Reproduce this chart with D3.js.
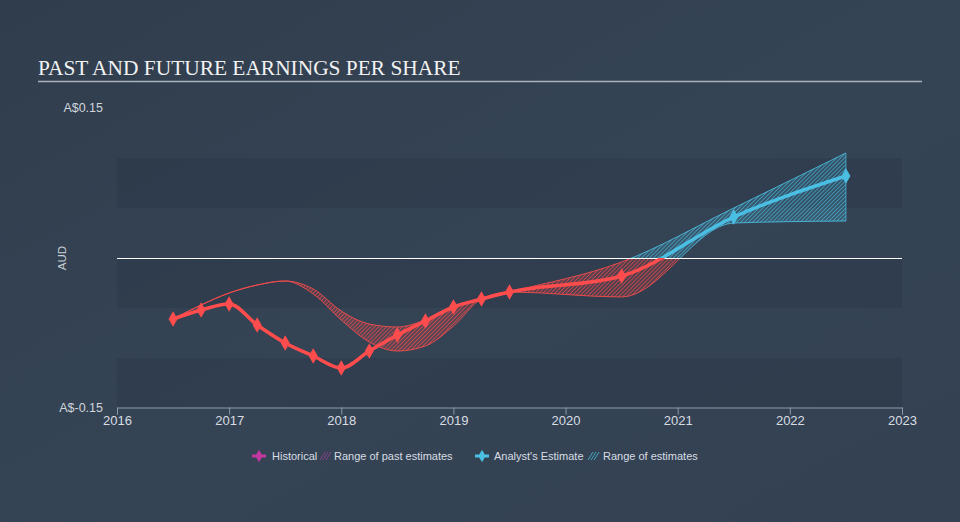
<!DOCTYPE html>
<html lang="en">
<head>
<meta charset="utf-8">
<title>Past and future earnings per share</title>
<script src="https://cdn.jsdelivr.net/npm/d3@7"></script>
<style>
  body { margin: 0; background: #344253; }
  svg { display: block; }
</style>
</head>
<body>
<script>
// EPS line: historical (quarterly) then analyst estimates
var epsDates  = [2016.5, 2016.75, 2017, 2017.25, 2017.5, 2017.75, 2018, 2018.25, 2018.5, 2018.75, 2019, 2019.25, 2019.5, 2020.5, 2021.5, 2022.5];
var epsValues = [-0.061, -0.052, -0.046, -0.067, -0.085, -0.098, -0.110, -0.093, -0.077, -0.063, -0.049, -0.041, -0.034, -0.018, 0.041, 0.082];

// range of estimates (low / high)
var rangeDates = [2016.5, 2016.75, 2017, 2017.25, 2017.5, 2017.75, 2018, 2018.25, 2018.5, 2018.75, 2019, 2019.25, 2019.5, 2020.5, 2021.5, 2022.5];
var rangeLow   = [-0.061, -0.047, -0.035, -0.027, -0.023, -0.036, -0.062, -0.084, -0.093, -0.088, -0.068, -0.041, -0.034, -0.039, 0.035, 0.037];
var rangeHigh  = [-0.061, -0.047, -0.035, -0.027, -0.023, -0.031, -0.053, -0.066, -0.069, -0.062, -0.050, -0.041, -0.034, -0.004, 0.050, 0.105];

var xTicks = [2016, 2017, 2018, 2019, 2020, 2021, 2022, 2023];
var yLabels = [0.15, -0.15];
var bands = [[0.10, 0.05], [0, -0.05], [-0.10, -0.15]];

var w = 960, h = 522;
var red = "#ff4c4c", blue = "#4bbfe3";

var x = d3.scaleLinear().domain([2016, 2023]).range([117, 902]);
var y = d3.scaleLinear().domain([-0.15, 0.15]).range([408, 108]);

var svg = d3.select("body").append("svg").attr("width", w).attr("height", h);

var defs = svg.append("defs");
var bg = defs.append("linearGradient").attr("id", "bg").attr("x1", 0).attr("y1", 0).attr("x2", 1).attr("y2", 1);
bg.append("stop").attr("offset", "0%").attr("stop-color", "#303d4d");
bg.append("stop").attr("offset", "50%").attr("stop-color", "#354455");
bg.append("stop").attr("offset", "100%").attr("stop-color", "#334152");

function hatch(id, col) {
  var p = defs.append("pattern").attr("id", id)
    .attr("patternUnits", "userSpaceOnUse")
    .attr("width", 2.8).attr("height", 2.8)
    .attr("patternTransform", "rotate(45)");
  p.append("rect").attr("width", 2.8).attr("height", 2.8).attr("fill", col).attr("opacity", 0.18);
  p.append("line").attr("x1", 0).attr("y1", 0).attr("x2", 0).attr("y2", 2.8)
    .attr("stroke", col).attr("stroke-width", 1.5);
}
hatch("hatchRed", red);
hatch("hatchBlue", blue);

defs.append("clipPath").attr("id", "below").append("rect")
  .attr("x", 0).attr("y", y(0)).attr("width", w).attr("height", h - y(0));
defs.append("clipPath").attr("id", "above").append("rect")
  .attr("x", 0).attr("y", 0).attr("width", w).attr("height", y(0));

svg.append("rect").attr("width", w).attr("height", h).attr("fill", "url(#bg)");

// title
svg.append("text").attr("x", 38).attr("y", 75)
  .attr("font-family", "Liberation Serif, Times New Roman, serif")
  .attr("font-size", "21.4px").attr("fill", "#f2f2f2")
  .text("PAST AND FUTURE EARNINGS PER SHARE");
svg.append("line").attr("x1", 38).attr("x2", 922).attr("y1", 81.5).attr("y2", 81.5)
  .attr("stroke", "#a9b1bb").attr("stroke-width", 1.5);

// background bands
svg.selectAll("rect.band").data(bands).enter().append("rect")
  .attr("class", "band")
  .attr("x", x(2016)).attr("width", x(2023) - x(2016))
  .attr("y", function(d) { return y(d[0]); })
  .attr("height", function(d) { return y(d[1]) - y(d[0]); })
  .attr("fill", "rgba(20,28,40,0.12)");

// y labels
svg.selectAll("text.ylab").data(yLabels).enter().append("text")
  .attr("class", "ylab")
  .attr("x", 103).attr("y", function(d) { return y(d); })
  .attr("dy", "0.35em").attr("text-anchor", "end")
  .attr("font-family", "Liberation Sans, Arial, sans-serif")
  .attr("font-size", "12.5px").attr("fill", "#d0d5db")
  .text(function(d) { return "A$" + d.toFixed(2); });

svg.append("text")
  .attr("transform", "translate(66," + y(0) + ") rotate(-90)")
  .attr("text-anchor", "middle")
  .attr("font-family", "Liberation Sans, Arial, sans-serif")
  .attr("font-size", "11.5px").attr("fill", "#c9cfd6")
  .text("AUD");

// x axis
var xAxis = svg.append("g").attr("transform", "translate(0," + (y(-0.15) - 0.5) + ")")
  .call(d3.axisBottom(x).tickValues(xTicks).tickFormat(d3.format("d")).tickSizeOuter(0).tickSize(7));
xAxis.select(".domain").attr("stroke", "#8c9aab");
xAxis.selectAll(".tick line").attr("stroke", "#8c9aab");
xAxis.selectAll(".tick text").attr("y", 8)
  .attr("font-family", "Liberation Sans, Arial, sans-serif")
  .attr("font-size", "13px").attr("fill", "#d8dde3");

// range area
var rangeData = rangeDates.map(function(d, i) { return { t: d, lo: rangeLow[i], hi: rangeHigh[i] }; });
var area = d3.area().curve(d3.curveMonotoneX)
  .x(function(d) { return x(d.t); })
  .y0(function(d) { return y(d.lo); })
  .y1(function(d) { return y(d.hi); });
var hiLine = d3.line().curve(d3.curveMonotoneX)
  .x(function(d) { return x(d.t); }).y(function(d) { return y(d.hi); });
var loLine = d3.line().curve(d3.curveMonotoneX)
  .x(function(d) { return x(d.t); }).y(function(d) { return y(d.lo); });

[["below", "hatchRed", red], ["above", "hatchBlue", blue]].forEach(function(c) {
  var g = svg.append("g").attr("clip-path", "url(#" + c[0] + ")");
  g.append("path").datum(rangeData).attr("d", area).attr("fill", "url(#" + c[1] + ")").attr("opacity", 0.85);
  g.append("path").datum(rangeData).attr("d", hiLine).attr("fill", "none").attr("stroke", c[2]).attr("stroke-width", 1).attr("opacity", 0.85);
  g.append("path").datum(rangeData).attr("d", loLine).attr("fill", "none").attr("stroke", c[2]).attr("stroke-width", 1).attr("opacity", 0.85);
});
// right edge of estimate range
var last = rangeData[rangeData.length - 1];
svg.append("line").attr("x1", x(last.t)).attr("x2", x(last.t))
  .attr("y1", y(last.hi)).attr("y2", y(last.lo))
  .attr("stroke", blue).attr("stroke-width", 1).attr("opacity", 0.7);

// zero line
svg.append("line").attr("x1", x(2016)).attr("x2", x(2023))
  .attr("y1", y(0) + 0.5).attr("y2", y(0) + 0.5)
  .attr("stroke", "#ffffff").attr("stroke-width", 1);

// EPS line
var epsData = epsDates.map(function(d, i) { return { t: d, v: epsValues[i] }; });
var line = d3.line().curve(d3.curveMonotoneX)
  .x(function(d) { return x(d.t); }).y(function(d) { return y(d.v); });
[["below", red], ["above", blue]].forEach(function(c) {
  svg.append("path").datum(epsData).attr("clip-path", "url(#" + c[0] + ")")
    .attr("d", line).attr("fill", "none").attr("stroke", c[1])
    .attr("stroke-width", 3.5).attr("stroke-linejoin", "round");
});

var diamond = d3.symbol().type(d3.symbolDiamond).size(70);
svg.selectAll("path.pt").data(epsData).enter().append("path")
  .attr("class", "pt")
  .attr("d", diamond)
  .attr("transform", function(d) { return "translate(" + x(d.t) + "," + y(d.v) + ")"; })
  .attr("fill", function(d) { return d.v < 0 ? red : blue; });

// legend
var legend = svg.append("g").attr("font-family", "Liberation Sans, Arial, sans-serif")
  .attr("font-size", "11px").attr("fill", "#d8dde3");
var ly = 456;
function legendDiamond(cx, col) {
  legend.append("path").attr("d", d3.symbol().type(d3.symbolDiamond).size(45))
    .attr("transform", "translate(" + cx + "," + ly + ")").attr("fill", col);
  legend.append("rect").attr("x", cx - 7).attr("y", ly - 1.5).attr("width", 14).attr("height", 3).attr("fill", col);
}
function legendHatch(cx, col) {
  for (var k = 0; k < 3; k++) {
    legend.append("line")
      .attr("x1", cx - 5 + k * 3).attr("y1", ly + 4)
      .attr("x2", cx + k * 3).attr("y2", ly - 4)
      .attr("stroke", col).attr("stroke-width", 1).attr("opacity", 0.8);
  }
}
legendDiamond(259, "#c2369f");
legend.append("text").attr("x", 272).attr("y", ly).attr("dy", "0.35em").text("Historical");
legendHatch(325, "#a0409a");
legend.append("text").attr("x", 334).attr("y", ly).attr("dy", "0.35em").text("Range of past estimates");
legendDiamond(482, blue);
legend.append("text").attr("x", 494).attr("y", ly).attr("dy", "0.35em").text("Analyst's Estimate");
legendHatch(593, blue);
legend.append("text").attr("x", 603).attr("y", ly).attr("dy", "0.35em").text("Range of estimates");
</script>
</body>
</html>
